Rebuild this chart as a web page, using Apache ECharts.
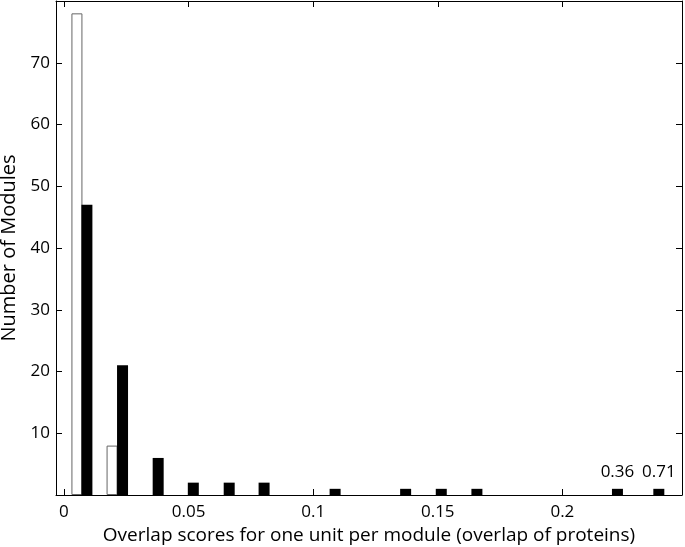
<!DOCTYPE html>
<html>
<head>
<meta charset="utf-8">
<script src="https://cdn.jsdelivr.net/npm/echarts@6/dist/echarts.min.js"></script>
<style>
  body { margin: 0; background: #fff; }
  #chart { width: 685px; height: 547px; }
</style>
</head>
<body>
<div id="chart"></div>
<script>
// bin centres (overlap score) and module counts
const openX = [0.0052, 0.0193];
const openCounts = [78, 8];
const filledX = [0.0092, 0.0235, 0.0378, 0.0519, 0.0663, 0.0803, 0.1088, 0.1371, 0.1514, 0.1657, 0.2221, 0.2387];
const filledCounts = [47, 21, 6, 2, 2, 2, 1, 1, 1, 1, 1, 1];
// the last two bins carry the value they stand for
const notes = ["", "", "", "", "", "", "", "", "", "", "0.36", "0.71"];

const font = "Open Sans";
const xMin = -0.0032, xMax = 0.248;

const chart = echarts.init(document.getElementById("chart"));

const axisBase = {
  axisLine: { show: true, onZero: false, lineStyle: { color: "#000", width: 1 } },
  axisTick: { show: true, inside: true, length: 6, lineStyle: { color: "#000" } },
  splitLine: { show: false },
};

chart.setOption({
  animation: false,
  grid: { left: 56, right: 3, top: 1, bottom: 52, outerBoundsMode: "none", containLabel: false },
  xAxis: [
    {
      ...axisBase,
      type: "value",
      min: xMin,
      max: xMax,
      splitNumber: 5,
      axisLabel: {
        color: "#000", fontFamily: font, fontSize: 17, margin: 9,
        showMinLabel: false, showMaxLabel: false,
      },
      name: "Overlap scores for one unit per module (overlap of proteins)",
      nameLocation: "middle",
      nameGap: 25,
      nameTextStyle: { color: "#000", fontFamily: font, fontSize: 19 },
    },
    {
      ...axisBase,
      type: "value",
      position: "top",
      min: xMin,
      max: xMax,
      splitNumber: 5,
      axisLabel: { show: false },
    },
  ],
  yAxis: [
    {
      ...axisBase,
      type: "value",
      min: 0,
      max: 80,
      interval: 10,
      axisLabel: {
        color: "#000", fontFamily: font, fontSize: 17, margin: 6,
        formatter: (v) => (v === 0 || v === 80 ? "" : v),
      },
      name: "Number of Modules",
      nameLocation: "middle",
      nameGap: 36,
      nameTextStyle: { color: "#000", fontFamily: font, fontSize: 20 },
    },
    {
      ...axisBase,
      type: "value",
      position: "right",
      min: 0,
      max: 80,
      interval: 10,
      axisLabel: { show: false },
    },
  ],
  series: [
    {
      type: "bar",
      barWidth: 11,
      barGap: "-100%",
      itemStyle: { color: "#fff", borderColor: "#666", borderWidth: 1 },
      data: openX.map((x, i) => [x, openCounts[i]]),
    },
    {
      type: "bar",
      barWidth: 11,
      barGap: "-100%",
      itemStyle: { color: "#000" },
      data: filledX.map((x, i) => ({
        value: [x, filledCounts[i]],
        label: {
          show: notes[i] !== "",
          position: "top",
          distance: 8,
          formatter: notes[i],
          color: "#000",
          fontFamily: font,
          fontSize: 17,
        },
      })),
    },
  ],
});
</script>
</body>
</html>
